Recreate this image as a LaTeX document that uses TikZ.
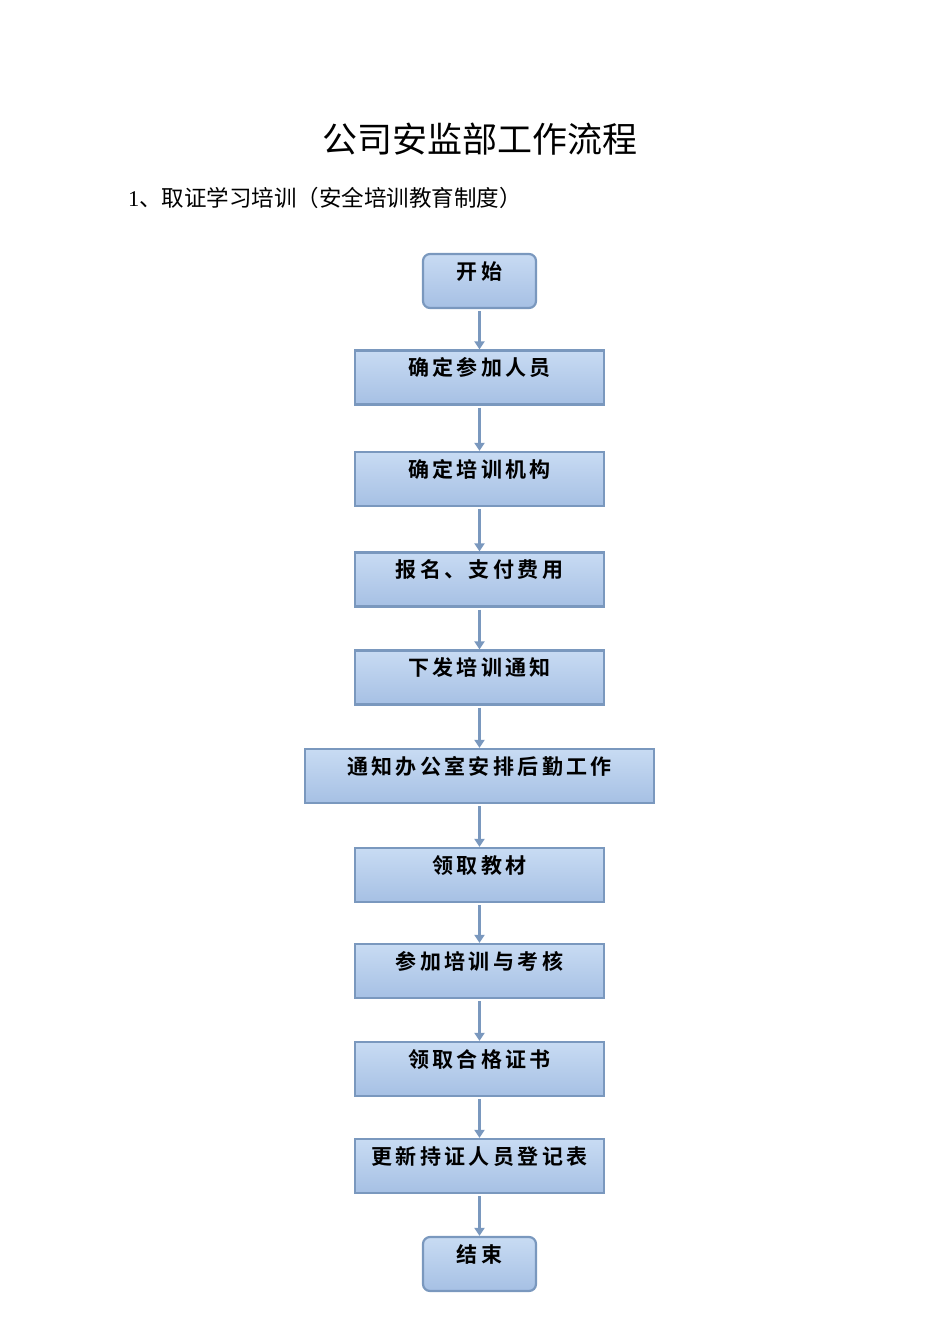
\documentclass[tikz,border=0pt]{standalone}
\usepackage{fontspec}
\newfontfamily\cjk{Noto Sans CJK SC}
\newfontfamily\cjkb[LetterSpace=16]{Noto Sans CJK SC Bold}
\usetikzlibrary{arrows.meta}
\definecolor{boxline}{RGB}{122,152,190}
\definecolor{boxtop}{RGB}{200,219,243}
\definecolor{boxbot}{RGB}{166,192,228}
\definecolor{arrowc}{RGB}{122,152,190}
\tikzset{
  stepbox/.style={draw=boxline, line width=2.2pt, top color=boxtop, bottom color=boxbot,
    inner sep=0pt, minimum width=249pt, minimum height=54pt, text height=25pt, text depth=29pt,
    font=\cjkb\fontsize{21}{21}\selectfont, align=center},
  widebox/.style={stepbox, minimum width=349pt},
  termbox/.style={stepbox, rounded corners=7pt, minimum width=113pt},
  flow/.style={draw=arrowc, line width=2.2pt, -{Triangle[length=8pt,width=10pt]}}
}
\begin{document}
\begin{tikzpicture}[x=1pt,y=1pt]
\useasboundingbox (0,0) rectangle (950,-1344);
\node[font=\cjk\fontsize{35}{35}\selectfont, inner sep=0pt] (title) at (480,-139) {公司安监部工作流程};
\node[font=\cjk\fontsize{22.5}{22.5}\selectfont, inner sep=0pt, anchor=west] (sub) at (128,-198) {{\fontspec{Liberation Serif}1}、取证学习培训（安全培训教育制度）};
\node[termbox] (n0) at (479.5,-281) {开始};
\node[stepbox] (n1) at (479.5,-377.5) {确定参加人员};
\node[stepbox] (n2) at (479.5,-479) {确定培训机构};
\node[stepbox] (n3) at (479.5,-579.5) {报名、支付费用};
\node[stepbox] (n4) at (479.5,-677.5) {下发培训通知};
\node[widebox] (n5) at (479.5,-776) {通知办公室安排后勤工作};
\node[stepbox] (n6) at (479.5,-875) {领取教材};
\node[stepbox] (n7) at (479.5,-971) {参加培训与考核};
\node[stepbox] (n8) at (479.5,-1069) {领取合格证书};
\node[stepbox] (n9) at (479.5,-1166) {更新持证人员登记表};
\node[termbox] (n10) at (479.5,-1264) {结束};
\foreach \a/\b in {n0/n1,n1/n2,n2/n3,n3/n4,n4/n5,n5/n6,n6/n7,n7/n8,n8/n9,n9/n10}
  \draw[flow] ([yshift=-2pt]\a.south) -- (\b.north);
\end{tikzpicture}
\end{document}
